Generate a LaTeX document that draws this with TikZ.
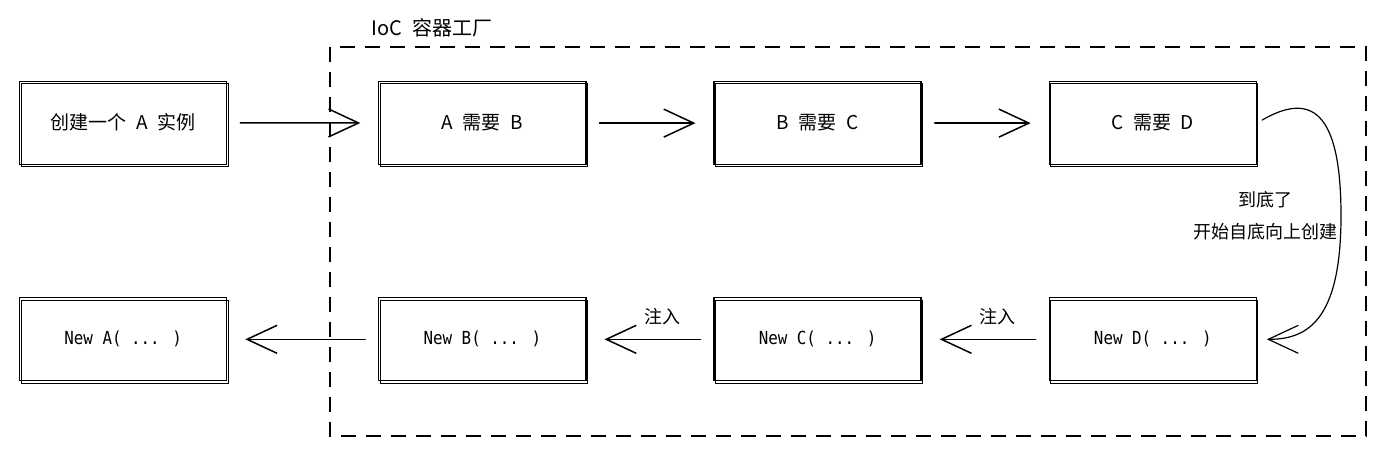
\documentclass[tikz,border=0pt]{standalone}
\usepackage{fontspec}
\setmainfont{Noto Sans CJK SC}
\newfontfamily\codefont[FakeStretch=0.88]{DejaVu Sans Mono}
\usetikzlibrary{arrows.meta,chains,matrix,positioning,scopes}
\tikzset{>={Straight Barb[length=30pt,width=28pt]},
	every join/.style={->,flowline,shorten <=13pt,shorten >=18pt}}
\tikzstyle{flowline}=[line width=1.5pt,line cap=round,line join=round]
\tikzstyle{labeled}=[font=\fontsize{18}{22}\selectfont,inner sep=2pt]
\tikzset{sketchbox/.style={draw,line width=1.2pt,minimum width=207pt,
		minimum height=83pt,inner sep=0pt,
		postaction={draw,line width=0.6pt,transform canvas={shift={(1.5pt,-2pt)}}}},
	inject/.style={edge node={node[labeled,above=12pt,xshift=12pt] {注入}}},
	frame/.style={line width=1.5pt,dash pattern=on 15pt off 10pt}}

\begin{document}
\begin{tikzpicture}[x=1pt,y=-1pt]
	\useasboundingbox (0,0) rectangle (1398,472);
	\matrix (m) at (638,231) [matrix of nodes, row sep=132pt, column sep=127pt,
		nodes={sketchbox},
		row 1/.style={nodes={font=\fontsize{19}{23}\selectfont}},
		row 2/.style={nodes={font=\codefont\fontsize{18}{22}\selectfont}}]
	{
		创建一个\enspace A\enspace 实例 &[24pt] A\enspace 需要\enspace B & B\enspace 需要\enspace C & C\enspace 需要\enspace D \\
		New A( ... ) & New B( ... ) & New C( ... ) & New D( ... ) \\
	};
	{ [start chain]
		\chainin (m-1-1);
		\chainin (m-1-2) [join];
		\chainin (m-1-3) [join];
		\chainin (m-1-4) [join];
	}
	{ [start chain]
		\chainin (m-2-4);
		\chainin (m-2-3) [join=by inject];
		\chainin (m-2-2) [join=by inject];
		\chainin (m-2-1) [join];
	}
	% turning back down the chain
	\coordinate (turn) at (1341,216);
	\draw[flowline,->,line width=1.2pt,shorten <=6pt,shorten >=10pt] (m-1-4.east)
		.. controls +(60,-35) and +(0,-95) .. (turn)
		.. controls +(0,105) and +(50,0) .. (m-2-4.east);
	\node[labeled,font=\fontsize{18}{32}\selectfont,left=1pt of turn,align=center] (note)
		{到底了\\开始自底向上创建};
	% container
	\draw[frame] (330,47) rectangle (1366,436);
	\node[font=\fontsize{20}{24}\selectfont] (title) at (432,28) {IoC\enspace 容器工厂};
\end{tikzpicture}
\end{document}
